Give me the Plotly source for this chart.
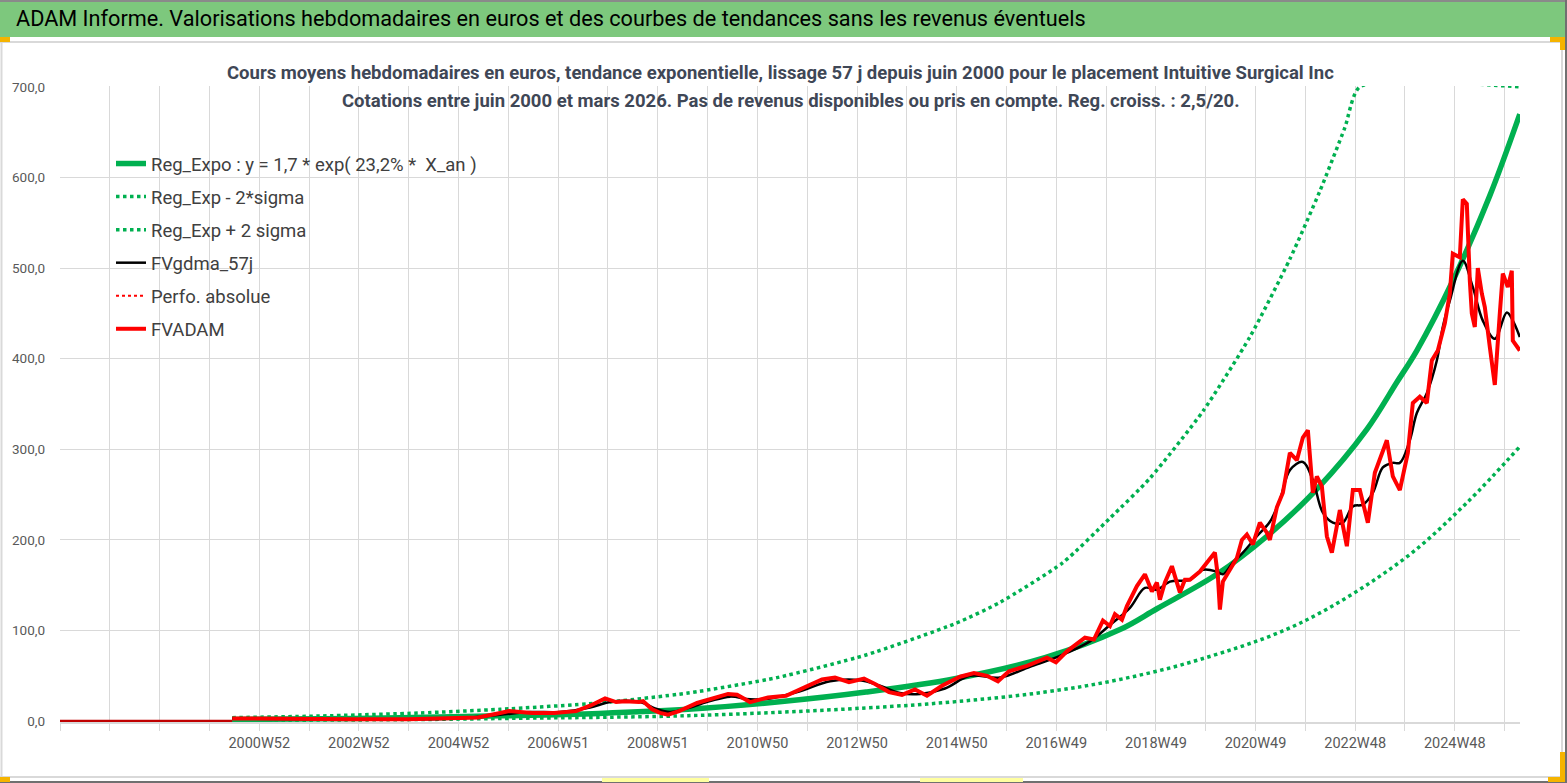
import datetime as dt

import plotly.graph_objects as go

# weekly quotes, x in decimal years, values in euros
fvadam_x = [2000.44, 2001.20, 2001.92, 2002.80, 2003.96, 2004.60, 2004.98, 2005.36, 2005.80, 2005.98,
            2006.20, 2006.44, 2006.88, 2007.32, 2007.60, 2007.90, 2008.12, 2008.30, 2008.58, 2008.66,
            2008.84, 2009.00, 2009.16, 2009.38, 2009.74, 2010.00, 2010.36, 2010.54, 2010.80, 2011.16,
            2011.52, 2011.88, 2012.24, 2012.50, 2012.78, 2013.08, 2013.30, 2013.58, 2013.84, 2014.10,
            2014.34, 2014.64, 2015.00, 2015.28, 2015.54, 2015.76, 2015.98, 2016.34, 2016.74, 2016.92,
            2017.14, 2017.50, 2017.68, 2017.86, 2018.00, 2018.10, 2018.24, 2018.34, 2018.54, 2018.70,
            2018.84, 2018.94, 2019.00, 2019.10, 2019.24, 2019.30, 2019.40, 2019.50, 2019.60, 2019.80,
            2019.96, 2020.10, 2020.16, 2020.20, 2020.26, 2020.40, 2020.54, 2020.64, 2020.74, 2020.86,
            2021.00, 2021.14, 2021.20, 2021.34, 2021.46, 2021.60, 2021.74, 2021.86, 2021.96, 2022.06,
            2022.14, 2022.24, 2022.34, 2022.44, 2022.60, 2022.74, 2022.86, 2023.00, 2023.16, 2023.30,
            2023.54, 2023.66, 2023.80, 2023.96, 2024.06, 2024.20, 2024.34, 2024.44, 2024.56, 2024.70,
            2024.80, 2024.86, 2025.00, 2025.06, 2025.14, 2025.20, 2025.24, 2025.30, 2025.36, 2025.44,
            2025.50, 2025.60, 2025.70, 2025.80, 2025.86, 2025.96, 2026.04, 2026.06, 2026.14, 2026.20]
fvadam_y = [3, 2.5, 2, 2, 2, 3, 3, 4, 9, 11,
            10, 9, 9, 11, 17, 25, 21, 22, 21, 22,
            13, 9, 7, 11, 20, 24, 30, 29, 21, 26,
            28, 37, 46, 48, 43, 47, 41, 32, 29, 35,
            28, 39, 49, 53, 50, 44, 55, 61, 70, 65,
            77, 92, 90, 111, 105, 118, 112, 127, 149, 162,
            143, 153, 134, 153, 171, 160, 142, 156, 156, 165,
            176, 186, 160, 123, 154, 167, 180, 200, 206, 195,
            219, 208, 200, 236, 252, 296, 288, 313, 321, 252,
            270, 259, 204, 186, 233, 193, 255, 255, 219, 274,
            310, 270, 255, 296, 351, 358, 351, 398, 409, 439,
            472, 516, 512, 576, 571, 486, 450, 435, 500, 472,
            457, 413, 371, 450, 494, 479, 497, 420, 413, 409]

gdma_x = [2000.44, 2001.92, 2003.96, 2004.98, 2005.80, 2006.40, 2007.00, 2007.60, 2008.00, 2008.60,
          2008.90, 2009.20, 2009.60, 2010.00, 2010.40, 2010.80, 2011.20, 2011.80, 2012.40, 2013.00,
          2013.40, 2013.80, 2014.20, 2014.70, 2015.20, 2015.80, 2016.40, 2017.00, 2017.60, 2018.00,
          2018.40, 2018.70, 2018.94, 2019.20, 2019.60, 2019.86, 2020.14, 2020.26, 2020.46, 2020.66,
          2020.94, 2021.20, 2021.40, 2021.60, 2021.86, 2022.06, 2022.26, 2022.46, 2022.66, 2022.86,
          2023.06, 2023.26, 2023.46, 2023.66, 2023.80, 2024.00, 2024.14, 2024.34, 2024.54, 2024.66,
          2024.80, 2025.06, 2025.26, 2025.46, 2025.70, 2025.94, 2026.06, 2026.20]
gdma_y = [3, 2, 2, 3, 7, 10, 10, 15, 21, 21,
          14, 10, 15, 22, 27, 24, 25, 33, 44, 45,
          39, 31, 30, 36, 50, 48, 60, 72, 88, 106,
          125, 147, 145, 154, 156, 167, 165, 162, 175, 186,
          204, 220, 244, 277, 286, 266, 230, 219, 219, 237,
          239, 252, 280, 285, 285, 310, 340, 362, 398, 435,
          464, 508, 479, 442, 422, 451, 442, 424]

reg_x = [2000.44, 2002.20, 2003.80, 2005.80, 2007.78, 2009.56, 2011.34, 2013.12, 2014.92, 2016.70,
         2018.20, 2018.94, 2020.14, 2021.14, 2022.14, 2023.14, 2023.74, 2024.14, 2024.86, 2025.60, 2026.20]
reg_y = [1.7, 2.5, 3.7, 5.8, 8.5, 13, 21, 32, 47, 70,
         101, 124, 162, 204, 256, 322, 374, 409, 486, 580, 670]

up_x = [2000.44, 2002.20, 2004.20, 2005.80, 2007.78, 2009.56, 2011.34, 2013.12, 2014.92, 2015.80,
        2017.06, 2018.00, 2018.80, 2019.86, 2020.80, 2021.60, 2022.20, 2022.70, 2023.00, 2026.20]
up_y = [3.8, 5.6, 9, 13, 20, 31, 48, 73, 108, 131,
        175, 224, 268, 342, 424, 510, 585, 655, 700, 700]

low_x = [2000.44, 2004.20, 2005.98, 2009.56, 2013.12, 2014.92, 2016.70, 2018.20, 2019.80, 2021.80,
         2023.86, 2025.14, 2026.20]
low_y = [0.8, 1.7, 3, 6, 14.5, 21.5, 32, 46, 68, 108,
         178, 241, 303]

# flat stretch before the first quote
zero_x = [1996.995, 2000.44]
zero_y = [0, 0]

week_labels = ["2000W52", "2002W52", "2004W52", "2006W51", "2008W51", "2010W50", "2012W50",
               "2014W50", "2016W49", "2018W49", "2020W49", "2022W48", "2024W48"]

X_START = 1996.995
X_END = 2026.204
WEEK = 7 / 365.25


def iso_to_year(lbl):
    y, w = lbl.split("W")
    d = dt.date.fromisocalendar(int(y), int(w), 1)
    n = (dt.date(d.year + 1, 1, 1) - dt.date(d.year, 1, 1)).days
    return d.year + (d.timetuple().tm_yday - 1) / n


# one gridline every 52 weeks, a label every other one
grid_vals = [X_START + k * 52 * WEEK for k in range(30) if X_START + k * 52 * WEEK < X_END]
lab_pos = {round(iso_to_year(l), 1): l for l in week_labels}
tick_vals, tick_text = [], []
for g in grid_vals:
    tick_vals.append(g)
    tick_text.append(lab_pos.get(round(g, 1), ""))

FONT = "Roboto, sans-serif"
GREEN = "#00B050"
GRID = "#D9D9D9"

fig = go.Figure()
fig.add_trace(go.Scatter(x=reg_x, y=reg_y, mode="lines", line=dict(color=GREEN, width=5.5, shape="spline"),
                         name="Reg_Expo : y = 1,7 * exp( 23,2% *  X_an )", legendgroup="a"))
fig.add_trace(go.Scatter(x=low_x, y=low_y, mode="lines",
                         line=dict(color=GREEN, width=3.5, dash="dot", shape="spline"),
                         name="Reg_Exp - 2*sigma", legendgroup="b"))
fig.add_trace(go.Scatter(x=up_x, y=up_y, mode="lines",
                         line=dict(color=GREEN, width=3.5, dash="dot", shape="spline", smoothing=0.6),
                         name="Reg_Exp + 2 sigma", legendgroup="c"))
fig.add_trace(go.Scatter(x=gdma_x, y=gdma_y, mode="lines", line=dict(color="black", width=2.5, shape="spline"),
                         name="FVgdma_57j", legendgroup="d"))
fig.add_trace(go.Scatter(x=[None], y=[None], mode="lines", line=dict(color="#FF0000", width=2, dash="dot"),
                         name="Perfo. absolue", legendgroup="e"))
fig.add_trace(go.Scatter(x=zero_x, y=zero_y, mode="lines", line=dict(color="#C00000", width=2.5),
                         showlegend=False))
fig.add_trace(go.Scatter(x=fvadam_x, y=fvadam_y, mode="lines", line=dict(color="#FF0000", width=4),
                         name="FVADAM", legendgroup="f"))


def px_x(p):
    return (p - 60) / 1460


def px_y(p):
    return (722 - p) / 636


shapes = [
    # green banner
    dict(type="rect", xref="paper", yref="paper", x0=px_x(0), x1=px_x(1567), y0=px_y(37), y1=px_y(0),
         fillcolor="#7DC87D", line=dict(width=0), layer="below"),
    dict(type="line", xref="paper", yref="paper", x0=px_x(0), x1=px_x(1567), y0=px_y(1), y1=px_y(1),
         line=dict(color="#8A8A8A", width=2)),
    # chart frame
    dict(type="line", xref="paper", yref="paper", x0=px_x(0), x1=px_x(1567), y0=px_y(42), y1=px_y(42),
         line=dict(color="#D9D9D9", width=2)),
    dict(type="line", xref="paper", yref="paper", x0=px_x(1.5), x1=px_x(1.5), y0=px_y(42), y1=px_y(777),
         line=dict(color="#D9D9D9", width=2)),
    dict(type="line", xref="paper", yref="paper", x0=px_x(1562), x1=px_x(1562), y0=px_y(42), y1=px_y(777),
         line=dict(color="#D9D9D9", width=2)),
    dict(type="line", xref="paper", yref="paper", x0=px_x(0), x1=px_x(1567), y0=px_y(777), y1=px_y(777),
         line=dict(color="#D9D9D9", width=2)),
    dict(type="line", xref="paper", yref="paper", x0=px_x(0), x1=px_x(1567), y0=px_y(782), y1=px_y(782),
         line=dict(color="#707070", width=2)),
    dict(type="line", xref="paper", yref="paper", x0=px_x(1566), x1=px_x(1566), y0=px_y(0), y1=px_y(783),
         line=dict(color="#707070", width=2)),
    # orange selection corners
    dict(type="rect", xref="paper", yref="paper", x0=px_x(0), x1=px_x(10), y0=px_y(42), y1=px_y(37),
         fillcolor="#F5B400", line=dict(width=0)),
    dict(type="rect", xref="paper", yref="paper", x0=px_x(1550), x1=px_x(1565), y0=px_y(42), y1=px_y(37),
         fillcolor="#F5B400", line=dict(width=0)),
    dict(type="rect", xref="paper", yref="paper", x0=px_x(1560), x1=px_x(1565), y0=px_y(50), y1=px_y(37),
         fillcolor="#F5B400", line=dict(width=0)),
    dict(type="rect", xref="paper", yref="paper", x0=px_x(0), x1=px_x(10), y0=px_y(782), y1=px_y(777),
         fillcolor="#F5B400", line=dict(width=0)),
    dict(type="rect", xref="paper", yref="paper", x0=px_x(1560), x1=px_x(1565), y0=px_y(782), y1=px_y(752),
         fillcolor="#F5B400", line=dict(width=0)),
    dict(type="rect", xref="paper", yref="paper", x0=px_x(1548), x1=px_x(1565), y0=px_y(782), y1=px_y(777),
         fillcolor="#F5B400", line=dict(width=0)),
    dict(type="rect", xref="paper", yref="paper", x0=px_x(602), x1=px_x(709), y0=px_y(782), y1=px_y(778),
         fillcolor="#FFFFA0", line=dict(width=0)),
    dict(type="rect", xref="paper", yref="paper", x0=px_x(920), x1=px_x(1023), y0=px_y(782), y1=px_y(778),
         fillcolor="#FFFFA0", line=dict(width=0)),
    # white box behind the chart title
    dict(type="rect", xref="paper", yref="paper", x0=px_x(220), x1=px_x(1340), y0=px_y(118), y1=px_y(55),
         fillcolor="white", line=dict(width=0), layer="between"),
]

annotations = [
    dict(text="ADAM Informe. Valorisations hebdomadaires en euros et des courbes de tendances "
              "sans les revenus éventuels",
         xref="paper", yref="paper", x=px_x(14), y=px_y(19), xanchor="left", yanchor="middle",
         showarrow=False, font=dict(family=FONT, size=21.7, color="black")),
    dict(text="<b>Cours moyens hebdomadaires en euros, tendance exponentielle, lissage 57 j depuis juin 2000 "
              "pour le placement Intuitive Surgical Inc</b>",
         xref="paper", yref="paper", x=px_x(780), y=px_y(73), xanchor="center", yanchor="middle",
         showarrow=False, font=dict(family=FONT, size=18.5, color="#3F4756")),
    dict(text="<b>Cotations entre juin 2000 et mars 2026. Pas de revenus disponibles ou pris en compte. "
              "Reg. croiss. : 2,5/20.</b>",
         xref="paper", yref="paper", x=px_x(791), y=px_y(101), xanchor="center", yanchor="middle",
         showarrow=False, font=dict(family=FONT, size=18.5, color="#3F4756")),
]

fig.update_layout(
    width=1567, height=783,
    margin=dict(l=60, r=47, t=86, b=61),
    paper_bgcolor="white", plot_bgcolor="white",
    separators=", ",
    showlegend=True,
    legend=dict(x=px_x(111), y=px_y(145), xanchor="left", yanchor="top", bgcolor="rgba(0,0,0,0)",
                font=dict(family=FONT, size=18.5, color="#404040"), tracegroupgap=6),
    xaxis=dict(range=[X_START, X_END], tickmode="array", tickvals=tick_vals, ticktext=tick_text,
               showgrid=True, gridcolor=GRID, gridwidth=1, zeroline=False,
               showline=True, linecolor=GRID, linewidth=2,
               ticks="outside", ticklen=7, tickcolor=GRID,
               tickfont=dict(family=FONT, size=14.5, color="#595959")),
    yaxis=dict(range=[-1, 701], tickmode="array", tickvals=[0, 100, 200, 300, 400, 500, 600, 700],
               tickformat=".1f", showgrid=True, gridcolor=GRID, gridwidth=1, zeroline=False,
               showline=False, ticks="", ticklabelstandoff=14,
               tickfont=dict(family=FONT, size=13.5, color="#595959")),
    shapes=shapes,
    annotations=annotations,
)

fig.write_html("out.html", config={"displayModeBar": False},
               post_script="document.body.style.margin='0px';")
